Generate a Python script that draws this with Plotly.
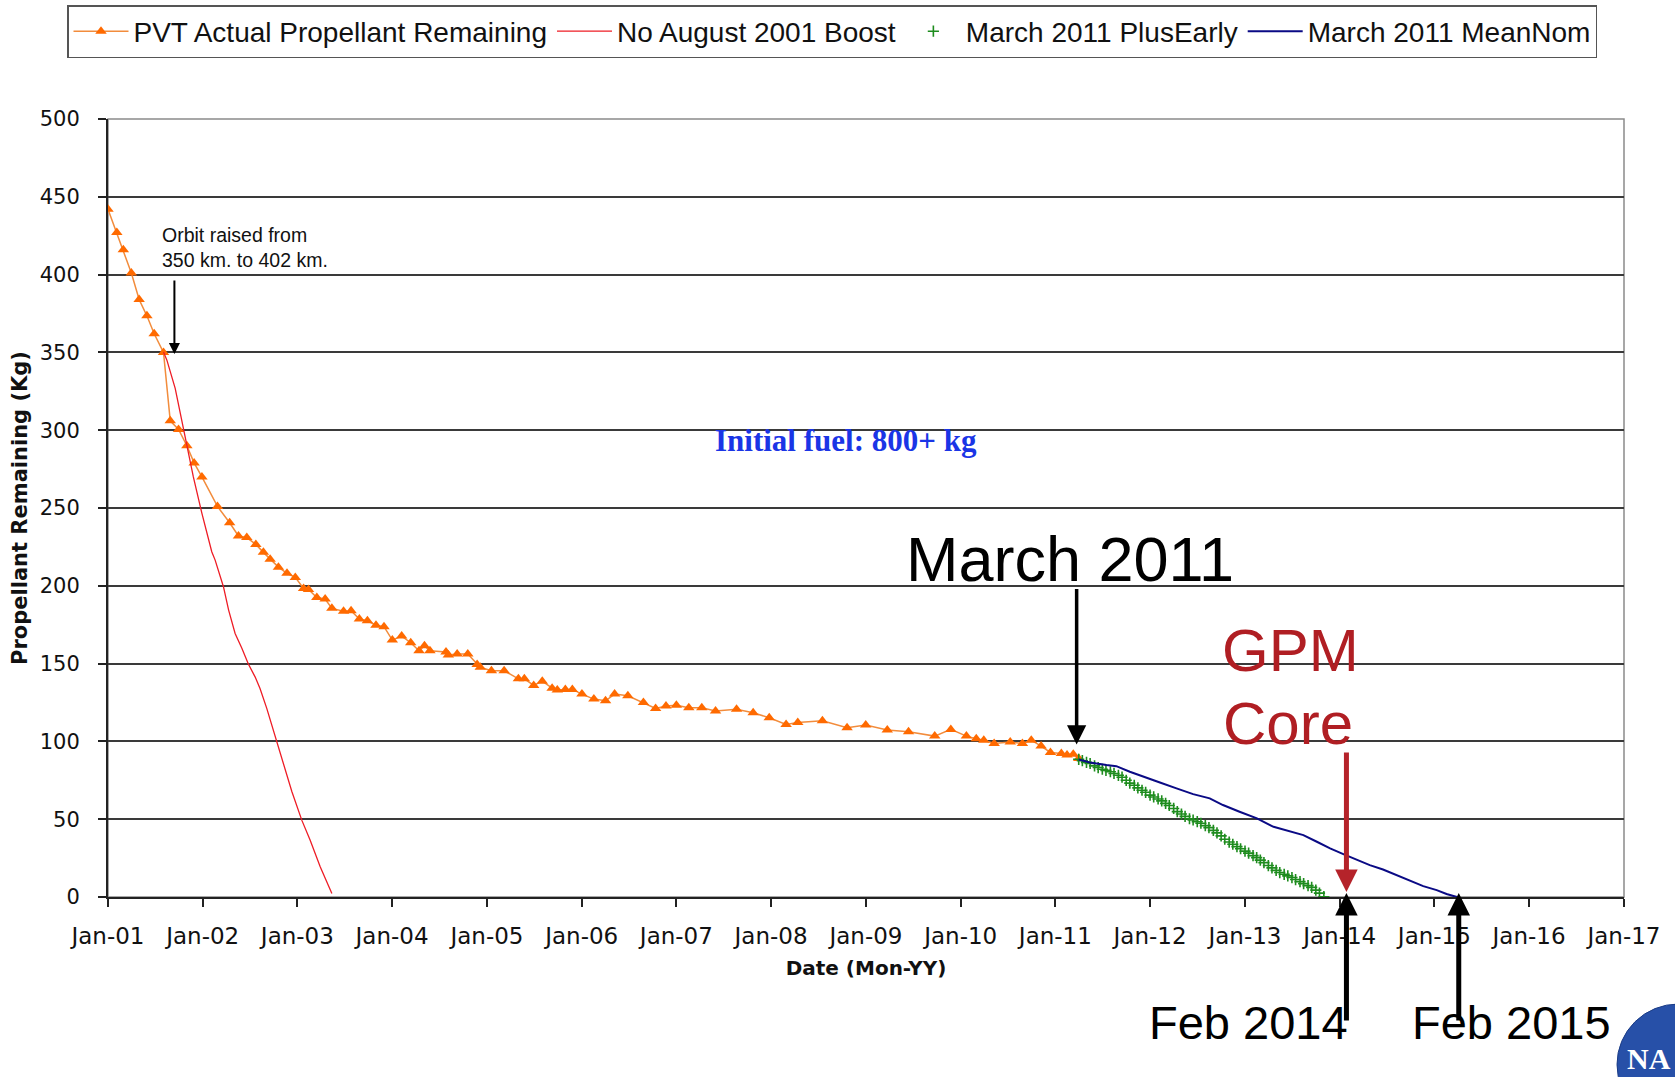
import plotly.graph_objects as go
import pandas as pd

# ---------------- data ----------------
pvt_dates = ["2001-01-01", "2001-02-04", "2001-03-01", "2001-04-01", "2001-05-01", "2001-05-31",
             "2001-06-28", "2001-08-03", "2001-08-29", "2001-09-30", "2001-11-01", "2001-11-29",
             "2001-12-29", "2002-02-27", "2002-04-15", "2002-05-19", "2002-06-20", "2002-07-25",
             "2002-08-23", "2002-09-18", "2002-10-20", "2002-11-22", "2002-12-24", "2003-01-25",
             "2003-02-13", "2003-03-17", "2003-04-18", "2003-05-14", "2003-06-28", "2003-07-27",
             "2003-08-28", "2003-09-28", "2003-10-31", "2003-12-01", "2004-01-02", "2004-02-07",
             "2004-03-13", "2004-04-14", "2004-05-05", "2004-05-26", "2004-07-27", "2004-08-05",
             "2004-09-08", "2004-10-19", "2004-11-24", "2004-12-06", "2005-01-18", "2005-03-08",
             "2005-05-02", "2005-05-25", "2005-06-30", "2005-08-02", "2005-09-09", "2005-09-29",
             "2005-10-30", "2005-11-26", "2006-01-02", "2006-02-17", "2006-04-03", "2006-05-08",
             "2006-06-28", "2006-08-27", "2006-10-13", "2006-11-22", "2007-01-01", "2007-02-18",
             "2007-04-09", "2007-06-01", "2007-08-21", "2007-10-24", "2007-12-25", "2008-02-28",
             "2008-04-13", "2008-07-17", "2008-10-20", "2008-12-31", "2009-03-24", "2009-06-14",
             "2009-09-23", "2009-11-24", "2010-01-23", "2010-03-02", "2010-03-31", "2010-05-10",
             "2010-07-11", "2010-08-27", "2010-09-30", "2010-11-07", "2010-12-13", "2011-01-24",
             "2011-02-15", "2011-03-11", "2011-04-01"]
pvt_kg = [442, 427, 416, 401, 384, 373.5,
          362, 350, 306, 300.5, 290, 279,
          270, 251, 240.5, 232, 231, 226.6,
          221.5, 217, 212, 208, 205.4, 198.3,
          197.7, 192.5, 191.5, 185.5, 183.7, 184,
          178.6, 177.5, 174.7, 173.7, 165.1, 167.7,
          163.4, 158.2, 161.4, 158.2, 157.5, 155.5,
          156.1, 156.1, 149.5, 147.6, 145.4, 145.4,
          140.2, 140.2, 136, 138.7, 134.2, 133,
          133.4, 133.4, 130.4, 127.2, 126.1, 130.4,
          129.3, 125, 121.2, 122.7, 123.3, 121.6,
          121.6, 119.5, 120.6, 118.4, 115.2, 110.9,
          112.2, 113.3, 108.8, 110.5, 107.3, 106.2,
          103.4, 107.7, 103.4, 101.7, 100.8, 98.7,
          99.6, 98.7, 100.8, 97, 92.9, 92.3,
          91.2, 91.8, 89]

noboost_dates = ["2001-08-03", "2001-08-16", "2001-09-17", "2001-10-12", "2001-11-01", "2001-11-26",
                 "2001-12-29", "2002-02-05", "2002-02-18", "2002-03-22", "2002-04-11", "2002-05-06",
                 "2002-06-01", "2002-06-26", "2002-07-22", "2002-08-10", "2002-09-05", "2002-10-14",
                 "2002-11-15", "2002-12-11", "2003-01-18", "2003-02-19", "2003-03-30", "2003-05-14"]
noboost_kg = [350.2, 345, 326.9, 306.5, 290.4, 270,
              246.5, 221.9, 216.5, 199.4, 184.4, 169.4,
              159.8, 149.7, 141.5, 134, 121.2, 99.1,
              81.6, 67.6, 49.4, 36.6, 19.4, 2.3]

plusearly_dates = pd.date_range("2011-04-01", "2013-11-01", freq="SMS")
plusearly_kg = [88.5, 87.6, 86.5, 85.8, 84.3, 83.2, 82.1, 81.4, 80.5, 79.4, 78.2, 77.0,
                75.0, 73.2, 71.8, 70.1, 68.6, 67.3,
                65.5, 64.3, 63.0, 61.8, 60.2, 58.8, 56.9, 54.9, 53.3, 51.8, 50.3, 49.5,
                48.4, 47.4, 45.9, 44.6, 42.8, 41.2, 39.3, 37.1, 35.3, 33.9, 32.4, 31.0,
                29.5, 28.2, 26.6, 25.3, 23.7, 22.1, 20.2, 18.7, 17.1, 15.7, 14.6, 13.6,
                12.5, 11.2, 9.9, 8.6, 7.3, 6.2, 4.4, 2.5, 0.2]

meannom_dates = ["2011-04-01", "2011-05-14", "2011-07-17", "2011-08-24", "2011-10-15", "2011-12-05",
                 "2012-02-08", "2012-04-12", "2012-06-15", "2012-08-18", "2012-10-08", "2012-12-11",
                 "2013-02-16", "2013-04-21", "2013-06-24", "2013-08-14", "2013-10-05", "2013-11-25",
                 "2014-01-15", "2014-03-07", "2014-04-27", "2014-06-17", "2014-08-07", "2014-09-27",
                 "2014-11-19", "2015-01-10", "2015-02-17", "2015-03-29"]
meannom_kg = [88.4, 86.5, 84.8, 84.1, 80.5, 77.3,
              73.6, 69.8, 66.1, 63.4, 59.1, 54.8,
              50.5, 45.1, 41.9, 39.8, 35.5, 31.2,
              27.6, 24.2, 20.5, 17.7, 14.1, 10.9,
              7, 4.4, 1.9, 0]

y_ticks = [0, 50, 100, 150, 200, 250, 300, 350, 400, 450, 500]

# ---------------- figure ----------------
FONT = "Liberation Sans, Arial, sans-serif"
WIDE = "DejaVu Sans, Verdana, sans-serif"
fig = go.Figure()

fig.add_trace(go.Scatter(
    x=pvt_dates, y=pvt_kg, mode="lines+markers",
    name="PVT Actual Propellant Remaining",
    line=dict(color="#F28C3C", width=1.5),
    marker=dict(symbol="triangle-up", size=10, color="#FF6A00"),
))
fig.add_trace(go.Scatter(
    x=noboost_dates, y=noboost_kg, mode="lines",
    name="No August 2001 Boost",
    line=dict(color="#EE1C25", width=1.3),
))
fig.add_trace(go.Scatter(
    x=plusearly_dates, y=plusearly_kg, mode="markers",
    name="March 2011 PlusEarly",
    marker=dict(symbol="cross-thin", size=8, color="#1E8C1E",
                line=dict(color="#1E8C1E", width=1.6)),
))
fig.add_trace(go.Scatter(
    x=meannom_dates, y=meannom_kg, mode="lines",
    name="March 2011 MeanNom",
    line=dict(color="#0A0A85", width=2),
))

fig.update_xaxes(
    type="date", range=["2001-01-01", "2017-01-01"],
    tick0="2001-01-01", dtick="M12", tickformat="%b-%y",
    ticks="outside", ticklen=8, tickwidth=1.5, tickcolor="#222",
    showgrid=False, zeroline=False,
    showline=True, linecolor="#222", linewidth=2,
    tickfont=dict(family=WIDE, size=23, color="#111"),
    ticklabelstandoff=9,
    title=dict(text="<b>Date (Mon-YY)</b>", font=dict(family=WIDE, size=20, color="#111"),
               standoff=13),
)
fig.update_yaxes(
    range=[0, 500], tickvals=y_ticks,
    ticks="outside", ticklen=8, tickwidth=1.5, tickcolor="#222",
    showgrid=True, gridcolor="#3A3A3A", gridwidth=1.5,
    zeroline=False, showline=True, linecolor="#222", linewidth=2,
    tickfont=dict(family=WIDE, size=21, color="#111"),
    ticklabelstandoff=14,
    title=dict(text="<b>Propellant Remaining (Kg)</b>", font=dict(family=WIDE, size=21, color="#111"),
               standoff=6),
)

L, R, T, B = 108, 51, 119, 180
W, H = 1675, 1077
PW, PH = W - L - R, H - T - B


def px(x):
    return (x - L) / PW


def py(y):
    return (H - B - y) / PH


shapes = [
    dict(type="rect", xref="paper", yref="paper", x0=0, x1=1, y0=0, y1=1,
         line=dict(color="#8A8A8A", width=1.5), layer="below"),
    dict(type="circle", xref="paper", yref="paper",
         x0=px(1617), x1=px(1740), y0=py(1125), y1=py(1004),
         fillcolor="#2750A8", line=dict(color="#1B3C86", width=1)),
]

ann = []
ann.append(dict(xref="paper", yref="paper", x=px(160), y=py(222), xanchor="left", yanchor="top",
                text="Orbit raised from<br>350 km. to 402 km.", showarrow=False, align="left",
                font=dict(family=FONT, size=19.5, color="#111")))
ann.append(dict(x="2001-09-14", y=349, ax=0, ay=-75, text="", showarrow=True,
                arrowhead=2, arrowwidth=2, arrowsize=1.1, arrowcolor="#000"))
ann.append(dict(xref="paper", yref="paper", x=px(846), y=py(440), xanchor="center", yanchor="middle",
                text="<b>Initial fuel: 800+ kg</b>", showarrow=False,
                font=dict(family="Liberation Serif, Times New Roman, serif", size=31, color="#1A35E6")))
ann.append(dict(xref="paper", yref="paper", x=px(1070), y=py(559), xanchor="center", yanchor="middle",
                text="March 2011", showarrow=False,
                font=dict(family=FONT, size=63, color="#000")))
ann.append(dict(x="2011-03-24", y=98, ax=0, ay=-157, text="", showarrow=True,
                arrowhead=2, arrowwidth=3.5, arrowsize=1.1, arrowcolor="#000"))
ann.append(dict(xref="paper", yref="paper", x=px(1290), y=py(650), xanchor="center", yanchor="middle",
                text="GPM", showarrow=False, font=dict(family=FONT, size=60, color="#B01E23")))
ann.append(dict(xref="paper", yref="paper", x=px(1288), y=py(723), xanchor="center", yanchor="middle",
                text="Core", showarrow=False, font=dict(family=FONT, size=60, color="#B01E23")))
ann.append(dict(x="2014-01-27", y=3.2, ax=0, ay=-141, text="", showarrow=True,
                arrowhead=2, arrowwidth=5, arrowsize=0.9, arrowcolor="#B5232A"))
ann.append(dict(x="2014-01-27", y=2.5, ax=0, ay=129, text="", showarrow=True,
                arrowhead=2, arrowwidth=5, arrowsize=0.9, arrowcolor="#000"))
ann.append(dict(x="2015-04-05", y=2.5, ax=0, ay=129, text="", showarrow=True,
                arrowhead=2, arrowwidth=5, arrowsize=0.9, arrowcolor="#000"))
ann.append(dict(xref="paper", yref="paper", x=px(1248), y=py(1022), xanchor="center", yanchor="middle",
                text="Feb 2014", showarrow=False, font=dict(family=FONT, size=47, color="#000")))
ann.append(dict(xref="paper", yref="paper", x=px(1511), y=py(1022), xanchor="center", yanchor="middle",
                text="Feb 2015", showarrow=False, font=dict(family=FONT, size=47, color="#000")))
ann.append(dict(xref="paper", yref="paper", x=px(1673), y=py(1058), xanchor="right", yanchor="middle",
                text="<b>NA</b>", showarrow=False,
                font=dict(family="Liberation Serif, serif", size=30, color="#FFFFFF")))

fig.update_layout(
    width=W, height=H,
    margin=dict(l=L, r=R, t=T, b=B, autoexpand=False),
    paper_bgcolor="white", plot_bgcolor="white",
    font=dict(family=FONT, color="#111"),
    showlegend=True,
    legend=dict(orientation="h", x=px(67), y=py(5), xanchor="left", yanchor="top",
                bgcolor="white", bordercolor="#555", borderwidth=1.5,
                font=dict(family=FONT, size=28, color="#111"),
                itemwidth=55, traceorder="normal"),
    shapes=shapes,
    annotations=ann,
)

fig.write_html("out.html", config={"displayModeBar": False},
               post_script="document.body.style.margin='0';document.body.style.overflow='hidden';")
